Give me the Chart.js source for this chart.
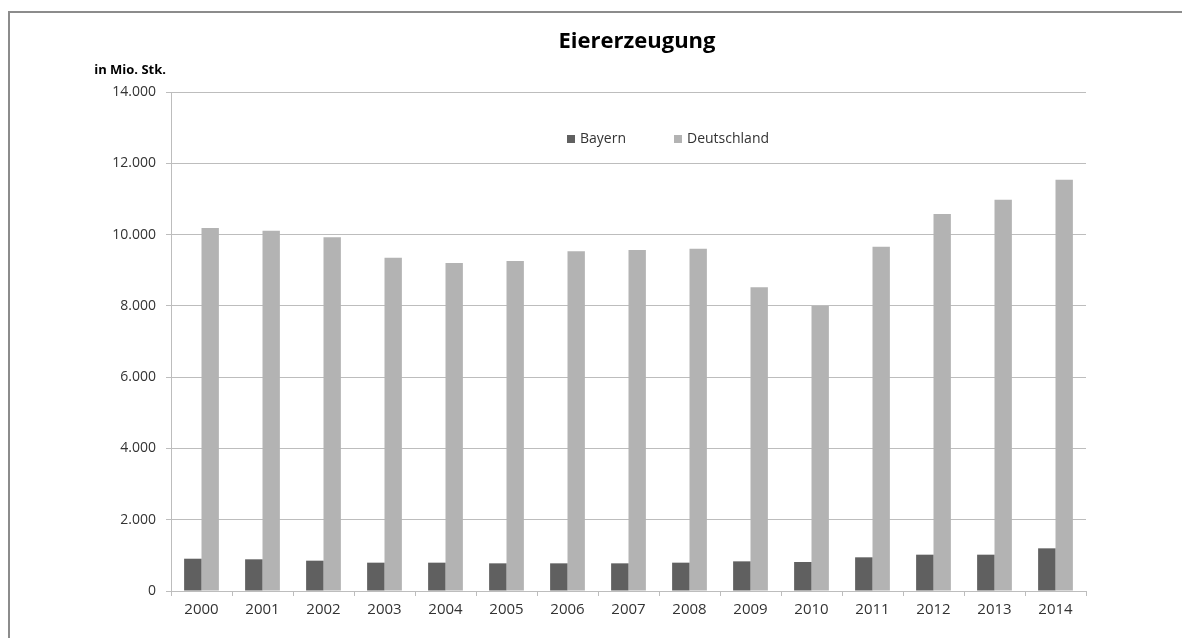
<!DOCTYPE html>
<html lang="de">
<head>
<meta charset="utf-8">
<title>Eiererzeugung</title>
<script src="https://cdn.jsdelivr.net/npm/chart.js@4/dist/chart.umd.min.js"></script>
<style>
    html, body { margin: 0; padding: 0; background: #fff; overflow: hidden; }
    #rahmen {
        position: absolute; left: 8px; top: 11px; width: 1300px; height: 700px;
        border-left: 2px solid #8c8c8c; border-top: 2px solid #8c8c8c;
    }
    #wrap { position: absolute; left: 0; top: 0; width: 1182px; height: 638px; }
</style>
</head>
<body>
<div id="rahmen"></div>
<div id="wrap"><canvas id="chart" width="1182" height="638"></canvas></div>
<script>
// Daten
var jahre = ["2000", "2001", "2002", "2003", "2004", "2005", "2006", "2007",
             "2008", "2009", "2010", "2011", "2012", "2013", "2014"];
var bayern = [906, 889, 851, 795, 795, 776, 776, 776, 795, 832, 814, 945, 1019, 1019, 1197];
var deutschland = [10185, 10110, 9924, 9353, 9203, 9259, 9531, 9568, 9605, 8521, 7997, 9661, 10578, 10980, 11541];
var serien = ["Bayern", "Deutschland"];
var farben = ["#606060", "#b3b3b3"];

Chart.defaults.font.family = '"Open Sans", sans-serif';
Chart.defaults.color = "#333333";

// Tausenderpunkt wie im Original
function formatZahl(v) {
    return String(v).replace(/\B(?=(\d{3})+(?!\d))/g, ".");
}

// Legende und Achsentitel im Diagramm zeichnen
var extras = {
    id: "extras",
    afterLayout: function(chart) {
        // Titel etwas nach rechts wie im Original
        chart.titleBlock.left += 17;
    },
    afterDraw: function(chart) {
        var ctx = chart.ctx;
        var area = chart.chartArea;
        ctx.save();

        // Einheit über der y-Achse
        ctx.font = 'bold 13px "Open Sans", sans-serif';
        ctx.fillStyle = "#000";
        ctx.textAlign = "right";
        ctx.textBaseline = "middle";
        ctx.fillText("in Mio. Stk.", area.left - 5, area.top - 22);

        // Legende
        ctx.font = '14px "Open Sans", sans-serif';
        ctx.textAlign = "left";
        var x = area.left + 396;
        var y = area.top + 47;
        for (let i = 0; i < chart.data.datasets.length; i++) {
            let ds = chart.data.datasets[i];
            ctx.fillStyle = ds.backgroundColor;
            ctx.fillRect(x, y - 4, 8, 8);
            ctx.fillStyle = "#333333";
            ctx.fillText(ds.label, x + 13, y);
            x += 13 + ctx.measureText(ds.label).width + 48;
        }
        ctx.restore();
    }
};

new Chart("chart", {
    type: "bar",
    data: {
        labels: jahre,
        datasets: [{
            label: serien[0],
            data: bayern,
            backgroundColor: farben[0],
            categoryPercentage: 0.57,
            barPercentage: 1.0
        }, {
            label: serien[1],
            data: deutschland,
            backgroundColor: farben[1],
            categoryPercentage: 0.57,
            barPercentage: 1.0
        }]
    },
    options: {
        responsive: false,
        animation: false,
        layout: { padding: { left: 0, right: 96, top: 0, bottom: 0 } },
        plugins: {
            legend: { display: false },
            tooltip: { enabled: false },
            title: {
                display: true,
                text: "Eiererzeugung",
                fullSize: false,
                color: "#000",
                font: { size: 22, weight: "bold" },
                padding: { top: 29, bottom: 36.6 }
            }
        },
        scales: {
            x: {
                grid: {
                    drawOnChartArea: false,
                    drawTicks: true,
                    tickLength: 5,
                    color: "#bdbdbd"
                },
                border: { color: "#bdbdbd" },
                ticks: { font: { size: 15 }, padding: 5, maxRotation: 0 },
                afterFit: function(scale) { scale.height = 47; }
            },
            y: {
                min: 0,
                max: 14000,
                grid: { color: "#bdbdbd", tickLength: 5 },
                border: { color: "#bdbdbd" },
                ticks: {
                    stepSize: 2000,
                    padding: 10,
                    font: { size: 14 },
                    callback: function(v) { return formatZahl(v); }
                },
                afterFit: function(scale) { scale.width = 171; }
            }
        }
    },
    plugins: [extras]
});
</script>
</body>
</html>
